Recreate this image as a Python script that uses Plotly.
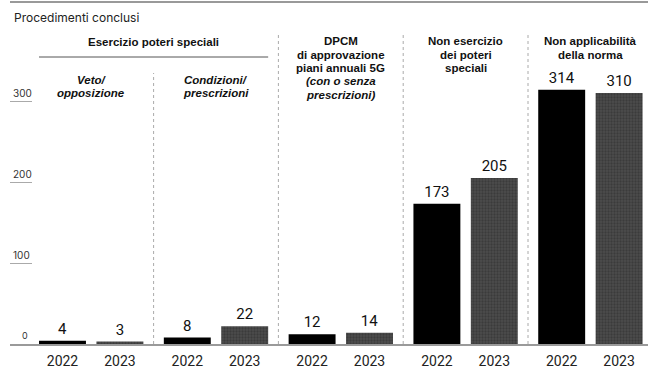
import plotly.graph_objects as go

groups = ["Veto/opposizione", "Condizioni/prescrizioni", "DPCM 5G", "Non esercizio", "Non applicabilità"]
years = ["2022", "2023"]
v2022 = [4, 8, 12, 173, 314]
v2023 = [3, 22, 14, 205, 310]
yticks = [100, 200, 300]

W, H = 659, 371
ML, MR, MT, MB = 10, 11, 33, 27
PH = H - MT - MB


def py(p):
    return (H - MB - p) / PH


OFF = 0.23
BW = 0.376
xs22 = [i - OFF for i in range(len(groups))]
xs23 = [i + OFF for i in range(len(groups))]

VF = dict(family="Roboto", size=15, color="#111")

fig = go.Figure()
fig.add_trace(go.Bar(x=xs22, y=v2022, width=BW, name="2022",
                     marker=dict(color="#000000", line=dict(width=0)),
                     text=[str(v) for v in v2022], textposition="outside",
                     textfont=VF, cliponaxis=False))
fig.add_trace(go.Bar(x=xs23, y=v2023, width=BW, name="2023",
                     marker=dict(color="#444444", line=dict(width=0),
                                 pattern=dict(shape=".", fgcolor="#2a2a2a", bgcolor="#4c4c4c",
                                              size=3, solidity=0.45)),
                     text=[str(v) for v in v2023], textposition="outside",
                     textfont=VF, cliponaxis=False))

tickx = sorted(xs22 + xs23)
ticktext = [years[k % 2] for k in range(len(tickx))]

x0 = -0.5 - 18.8 / 124.8
x1 = x0 + (W - ML - MR) / 124.8

fig.update_layout(
    width=W, height=H, margin=dict(l=ML, r=MR, t=MT, b=MB, autoexpand=False),
    paper_bgcolor="white", plot_bgcolor="white", showlegend=False,
    xaxis=dict(range=[x0, x1], tickvals=tickx, ticktext=ticktext, showgrid=False,
               zeroline=False, showline=True, linecolor="#9a9a9a", linewidth=1.5,
               ticks="", ticklabelstandoff=3, automargin=False,
               tickfont=dict(family="Roboto", size=14, color="#222")),
    yaxis=dict(range=[0, (H - MB - MT) / 0.81], tickvals=yticks, ticktext=[str(t) for t in yticks],
               showgrid=False, zeroline=False, showline=False, automargin=False,
               ticks="inside", ticklen=22, tickcolor="#aaa", tickwidth=1,
               ticklabelposition="inside top",
               tickfont=dict(family="Inter", size=10, color="#333")),
)

shapes = []
# top rule
shapes.append(dict(type="line", xref="paper", yref="paper", x0=0, x1=1, y0=py(2), y1=py(2),
                   line=dict(color="#999", width=2)))
# dividers
for k in range(len(groups) - 1):
    top = 73 if k == 0 else 33
    shapes.append(dict(type="line", xref="x", yref="paper", x0=k + 0.5, x1=k + 0.5,
                       y0=0, y1=py(top), line=dict(color="#aaa", width=1, dash="dot")))
# bracket under Esercizio poteri speciali
shapes.append(dict(type="line", xref="x", yref="paper", x0=xs22[0] - BW / 2, x1=xs23[1] + BW / 2,
                   y0=py(57), y1=py(57), line=dict(color="#555", width=1)))
fig.update_layout(shapes=shapes)

ann = []
ann.append(dict(text="Procedimenti conclusi", xref="paper", yref="paper", x=0.003, y=py(17),
                xanchor="left", yanchor="middle", showarrow=False,
                font=dict(family="Inter", size=12, color="#222")))
ann.append(dict(text="0", xref="paper", yref="y", x=(25 - ML) / (W - ML - MR), y=0,
                xanchor="center", yanchor="bottom", yshift=1, showarrow=False,
                font=dict(family="Inter", size=9, color="#333")))

HF = dict(family="Liberation Sans", size=11.5, color="#111")
LS = 13.3


def hdr(lines, x, top):
    for j, (t, it) in enumerate(lines):
        txt = "<b><i>" + t + "</i></b>" if it else "<b>" + t + "</b>"
        ann.append(dict(text=txt, xref="x", yref="paper", x=x, y=py(top + j * LS),
                        xanchor="center", yanchor="middle", showarrow=False, font=HF))


hdr([("Esercizio poteri speciali", False)], 0.5, 42)
hdr([("Veto/", True), ("opposizione", True)], 0, 80)
hdr([("Condizioni/", True), ("prescrizioni", True)], 1, 80)
hdr([("DPCM", False), ("di approvazione", False), ("piani annuali 5G", False),
     ("(con o senza", True), ("prescrizioni)", True)], 2, 41.5)
hdr([("Non esercizio", False), ("dei poteri", False), ("speciali", False)], 3, 41.5)
hdr([("Non applicabilità", False), ("della norma", False)], 4, 41.5)

fig.update_layout(annotations=ann)
fig.write_html("out.html")
